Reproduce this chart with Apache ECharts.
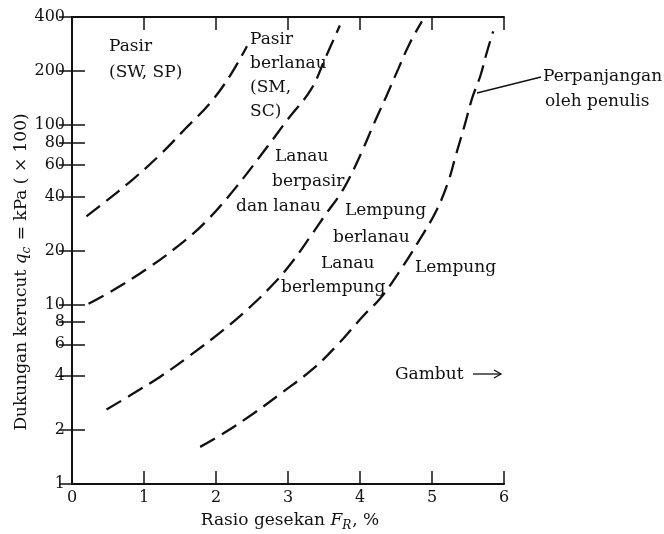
<!DOCTYPE html>
<html>
<head>
<meta charset="utf-8">
<script src="https://cdn.jsdelivr.net/npm/echarts@6/dist/echarts.min.js"></script>
<style>
  html, body { margin: 0; padding: 0; background: #fff; }
  #chart { width: 664px; height: 534px; }
</style>
</head>
<body>
<div id="chart"></div>
<script>
// tick labels
const xTicks = [0, 1, 2, 3, 4, 5, 6]
const yTicks = [1, 2, 4, 6, 8, 10, 20, 40, 60, 80, 100, 200, 400]

// boundary curves, friction ratio (%) vs cone resistance
const curve1X = [0.2, 0.41, 0.85, 1.25, 1.57, 1.92, 2.19, 2.43]
const curve1Y = [31, 36, 50, 70, 95, 133, 187, 275]

const curve2X = [0.23, 0.57, 1.04, 1.48, 1.85, 2.26, 2.72, 3.0, 3.32, 3.52, 3.72]
const curve2Y = [10.1, 12, 15.8, 21.3, 28.7, 44.1, 76.4, 108, 158, 237, 359]

const curve3X = [0.48, 0.81, 1.22, 1.64, 2.1, 2.45, 2.82, 3.06, 3.31, 3.54, 3.72, 3.86, 4.03, 4.19, 4.36, 4.53, 4.69, 4.86]
const curve3Y = [2.6, 3.12, 3.95, 5.2, 7.2, 9.5, 13.3, 17.3, 23.9, 32.5, 40.9, 51.4, 71.7, 101, 143, 205, 285, 378]

const curve4X = [1.78, 2.1, 2.52, 2.93, 3.35, 3.68, 4.05, 4.28, 4.54, 4.82, 5.06, 5.23, 5.33, 5.45, 5.56, 5.67, 5.76, 5.85]
const curve4Y = [1.61, 1.91, 2.47, 3.26, 4.39, 5.92, 8.69, 10.8, 15.1, 22.7, 33.3, 48.9, 67.7, 98.7, 142, 187, 253, 333]

const curves = [[curve1X, curve1Y], [curve2X, curve2Y], [curve3X, curve3Y], [curve4X, curve4Y]]

const FONT = 'DejaVu Serif'
const INK = '#111'

function label(x, y, text) {
  return {
    type: 'text', x: x, y: y,
    style: { text: text, font: '17px "' + FONT + '"', fill: INK, verticalAlign: 'middle' }
  }
}

const chart = echarts.init(document.getElementById('chart'))

const tickStyle = { show: true, inside: true, length: 13, lineStyle: { color: INK, width: 1.5 } }
const lineStyleAxis = { show: true, lineStyle: { color: INK, width: 2 } }

const richTitle = {
  a: { font: '17px "' + FONT + '"', fill: INK, lineHeight: 22 },
  i: { font: 'italic 17px "' + FONT + '"', fill: INK, lineHeight: 22 },
  s: { font: 'italic 12px "' + FONT + '"', fill: INK, lineHeight: 22, padding: [9, 1, 0, 0] }
}

let option = {
  backgroundColor: '#fff',
  animation: false,
  grid: { left: 72, right: 160, top: 17, bottom: 50 },
  xAxis: [{
    type: 'value', min: 0, max: 6, interval: 1, position: 'bottom',
    axisLine: lineStyleAxis,
    axisTick: tickStyle,
    splitLine: { show: false },
    axisLabel: { margin: 6, color: INK, fontFamily: FONT, fontSize: 16 }
  }, {
    type: 'value', min: 0, max: 6, interval: 1, position: 'top',
    axisLine: lineStyleAxis,
    axisTick: tickStyle,
    splitLine: { show: false },
    axisLabel: { show: false }
  }],
  yAxis: [{
    type: 'log', min: 1, max: 400, position: 'left',
    axisLine: lineStyleAxis,
    axisTick: Object.assign({}, tickStyle, { customValues: yTicks }),
    minorTick: { show: false },
    splitLine: { show: false },
    axisLabel: { customValues: yTicks, margin: 7, color: INK, fontFamily: FONT, fontSize: 16 }
  }, {
    type: 'log', min: 1, max: 400, position: 'right',
    axisLine: lineStyleAxis,
    axisTick: Object.assign({}, tickStyle, { customValues: yTicks }),
    splitLine: { show: false },
    axisLabel: { show: false }
  }],
  series: curves.map(c => ({
    type: 'line',
    xAxisIndex: 0, yAxisIndex: 0,
    data: c[0].map((x, i) => [x, c[1][i]]),
    smooth: 0.4,
    symbol: 'none',
    lineStyle: { color: INK, width: 2.3, type: [17, 8] }
  })),
  graphic: [
    // axis titles
    {
      type: 'text', x: 290, y: 521,
      style: { text: '{a|Rasio gesekan }{i|F}{s|R}{a|, %}', align: 'center', verticalAlign: 'middle', rich: richTitle }
    },
    {
      type: 'text', x: 22, y: 272, rotation: Math.PI / 2,
      style: { text: '{a|Dukungan kerucut }{i|q}{s|c}{a| = kPa ( × 100)}', align: 'center', verticalAlign: 'middle', rich: richTitle }
    },
    // zone labels
    label(109, 47, 'Pasir'),
    label(109, 73, '(SW, SP)'),
    label(250, 40, 'Pasir'),
    label(250, 64, 'berlanau'),
    label(250, 88, '(SM,'),
    label(250, 112, 'SC)'),
    label(275, 157, 'Lanau'),
    label(272, 182, 'berpasir'),
    label(236, 207, 'dan lanau'),
    label(345, 211, 'Lempung'),
    label(333, 238, 'berlanau'),
    label(321, 264, 'Lanau'),
    label(281, 288, 'berlempung'),
    label(415, 268, 'Lempung'),
    label(395, 375, 'Gambut'),
    label(543, 77, 'Perpanjangan'),
    label(545, 102, 'oleh penulis'),
    // leader + arrow
    { type: 'line', shape: { x1: 477, y1: 93, x2: 541, y2: 77 }, style: { stroke: INK, lineWidth: 1.3 } },
    { type: 'line', shape: { x1: 473, y1: 374, x2: 501, y2: 374 }, style: { stroke: INK, lineWidth: 1.3 } },
    { type: 'polyline', shape: { points: [[494, 370], [501, 374], [494, 378]] }, style: { stroke: INK, fill: null, lineWidth: 1.3 } }
  ]
}

chart.setOption(option)
</script>
</body>
</html>
